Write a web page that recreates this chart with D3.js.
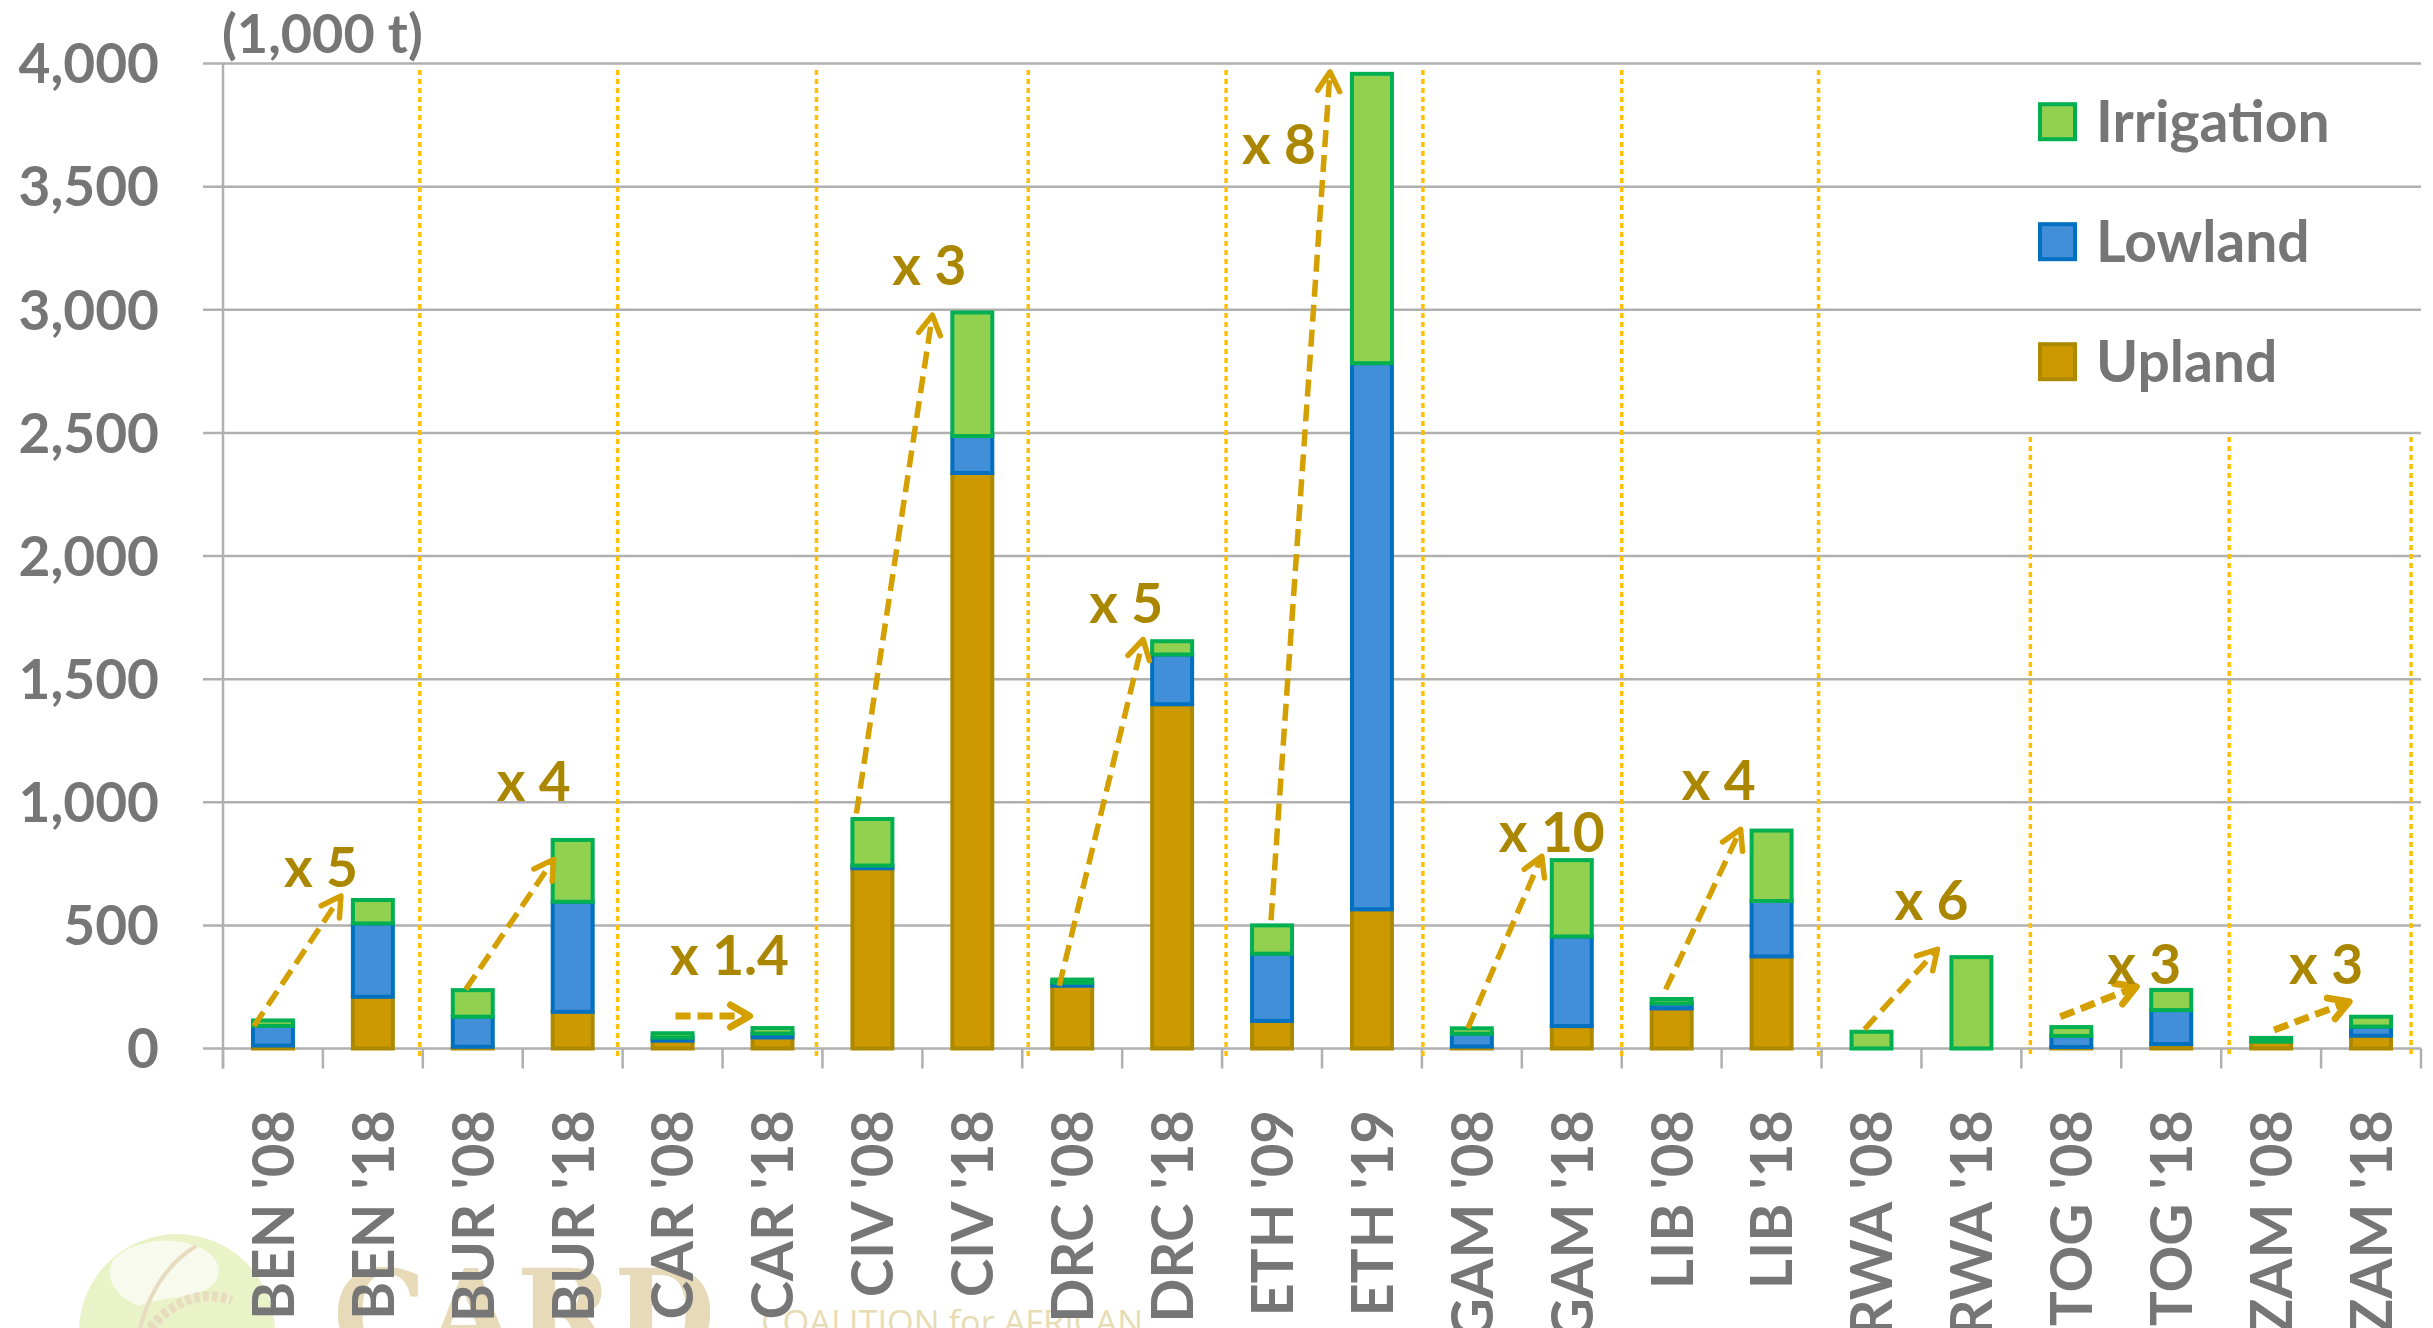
<!DOCTYPE html>
<html>
<head>
<meta charset="utf-8">
<script src="https://cdn.jsdelivr.net/npm/d3@7"></script>
<style>
  html, body { margin: 0; padding: 0; background: #ffffff; }
  svg { display: block; }
</style>
</head>
<body>
<svg id="chart" width="2433" height="1328"></svg>
<script>
// ---------------- DATA ----------------
const categories = ["BEN '08","BEN '18","BUR '08","BUR '18","CAR '08","CAR '18","CIV '08","CIV '18",
  "DRC '08","DRC '18","ETH '09","ETH '19","GAM '08","GAM '18","LIB '08","LIB '18",
  "RWA '08","RWA '18","TOG '08","TOG '18","ZAM '08","ZAM '18"];
const upland     = [12, 210, 7, 149, 32, 45, 732, 2337, 255, 1398, 112, 565, 8, 91, 163, 374, 0, 0, 6, 18, 28, 52];
const lowland    = [80, 298, 122, 447, 12, 16, 11, 150, 12, 202, 273, 2218, 52, 364, 20, 225, 0, 0, 45, 138, 0, 37];
const irrigation = [22, 95, 108, 251, 18, 22, 189, 502, 13, 54, 115, 1175, 22, 310, 18, 286, 68, 371, 36, 82, 15, 40];
const seriesNames = ["Upland", "Lowland", "Irrigation"];
const legendOrder = ["Irrigation", "Lowland", "Upland"];
const yTicks = [0, 500, 1000, 1500, 2000, 2500, 3000, 3500, 4000];
const yTitle = "(1,000 t)";
// group separators (category units) and whether they run full height
const separatorPos  = [1.97, 3.95, 5.94, 8.06, 10.04, 12.01, 14.0, 15.97, 18.09, 20.08, 21.9];
const separatorFull = [true, true, true, true, true, true, true, true, false, false, false];
// growth annotations: [category position, value]
const growthLabels = ["x 5","x 4","x 1.4","x 3","x 5","x 8","x 10","x 4","x 6","x 3","x 3"];
const arrowFrom = [[0.31,91],[2.43,240],[4.53,132],[6.34,955],[8.37,254],[10.49,521],[12.46,82],[14.44,240],[16.43,78],[18.39,129],[20.53,75]];
const arrowTo   = [[1.18,619],[3.31,768],[5.27,132],[7.10,2978],[9.21,1661],[11.08,3966],[13.2,781],[15.19,890],[17.16,403],[19.15,251],[21.28,190]];
const labelAt   = [[0.98,655],[3.11,1005],[5.07,300],[7.07,3100],[9.04,1728],[10.57,3590],[13.3,800],[14.97,1010],[17.1,520],[19.23,262],[21.05,262]];

// ---------------- STYLE ----------------
const fills   = {Upland: "#CC9A00", Lowland: "#428FD9", Irrigation: "#92D050"};
const strokes = {Upland: "#AD8900", Lowland: "#0070C0", Irrigation: "#00B050"};
const textGray = "#767676";
const gridGray = "#B0B0B0";
const arrowColor = "#D4A000";
const labelColor = "#AB8700";
const font = "Lato, 'Open Sans', sans-serif";

const svg = d3.select("#chart");
const plot = {left: 223, right: 2421, top: 63.5, bottom: 1048.5};

const x = d3.scaleBand().domain(categories).range([plot.left, plot.right])
  .paddingInner(0.6).paddingOuter(0.3);
const xLin = d3.scaleLinear().domain([0, categories.length]).range([plot.left, plot.right]);
const y = d3.scaleLinear().domain([0, 4000]).range([plot.bottom, plot.top]);

// ---------------- WATERMARK (logo, faint) ----------------
const wm = svg.append("g");
wm.append("circle").attr("cx", 177).attr("cy", 1332).attr("r", 98).attr("fill", "#EAF3C8");
wm.append("path").attr("d", "M112,1262 C130,1240 170,1236 196,1246 C214,1252 226,1268 214,1284 C196,1300 160,1296 140,1306 C120,1300 104,1282 112,1262 Z")
  .attr("fill", "#F7FAEC");
wm.append("path").attr("d", "M140,1328 C150,1290 170,1262 196,1246").attr("fill", "none").attr("stroke", "#E8DCC0").attr("stroke-width", 4);
wm.append("path").attr("d", "M150,1328 C175,1300 200,1290 232,1300").attr("fill", "none").attr("stroke", "#E8DCC0").attr("stroke-width", 10).attr("stroke-dasharray", "6,3");
wm.append("text").attr("x", 333).attr("y", 1358).attr("textLength", 382).attr("lengthAdjust", "spacingAndGlyphs")
  .attr("font-family", "'DejaVu Serif', serif").attr("font-weight", "bold").attr("font-size", 124)
  .attr("fill", "#E6DAB9").text("CARD");
wm.append("text").attr("x", 761).attr("y", 1334).attr("textLength", 382).attr("lengthAdjust", "spacingAndGlyphs")
  .attr("font-family", "'Open Sans', sans-serif").attr("font-size", 32)
  .attr("fill", "#E8DCB4").text("COALITION for AFRICAN");

// ---------------- GRID ----------------
const grid = svg.append("g");
grid.selectAll("line.h").data(yTicks).enter().append("line")
  .attr("x1", plot.left - 20).attr("x2", plot.right)
  .attr("y1", d => y(d)).attr("y2", d => y(d))
  .attr("stroke", gridGray).attr("stroke-width", 2.5);
grid.append("line").attr("x1", plot.left).attr("x2", plot.left)
  .attr("y1", y(4000)).attr("y2", plot.bottom + 20)
  .attr("stroke", gridGray).attr("stroke-width", 2.5);
grid.selectAll("line.t").data(d3.range(categories.length + 1)).enter().append("line")
  .attr("x1", d => xLin(d)).attr("x2", d => xLin(d))
  .attr("y1", plot.bottom).attr("y2", plot.bottom + 20)
  .attr("stroke", gridGray).attr("stroke-width", 2.5);

// y tick labels
svg.append("g").selectAll("text").data(yTicks).enter().append("text")
  .attr("x", 159).attr("y", d => y(d)).attr("dy", "0.36em")
  .attr("text-anchor", "end")
  .attr("font-family", font).attr("font-weight", "bold").attr("font-size", 55)
  .attr("fill", textGray)
  .text(d => d3.format(",")(d));

svg.append("text").attr("x", 222).attr("y", 53)
  .attr("font-family", font).attr("font-weight", "bold").attr("font-size", 54)
  .attr("fill", textGray).text(yTitle);

// group separators
svg.append("g").selectAll("line").data(separatorPos).enter().append("line")
  .attr("x1", d => xLin(d)).attr("x2", d => xLin(d))
  .attr("y1", (d, i) => separatorFull[i] ? 70 : y(2500) + 4)
  .attr("y2", plot.bottom + 9)
  .attr("stroke", "#FFC000").attr("stroke-width", 3.5).attr("stroke-dasharray", "5,4");

// ---------------- BARS ----------------
const table = categories.map((c, i) => ({cat: c, Upland: upland[i], Lowland: lowland[i], Irrigation: irrigation[i]}));
const stack = d3.stack().keys(seriesNames)(table);
const bars = svg.append("g");
stack.forEach(layer => {
  const key = layer.key;
  bars.selectAll(null).data(layer.filter(d => d[1] - d[0] > 0)).enter().append("rect")
    .attr("x", d => x(d.data.cat))
    .attr("width", x.bandwidth())
    .attr("y", d => y(d[1]))
    .attr("height", d => y(d[0]) - y(d[1]))
    .attr("fill", fills[key])
    .attr("stroke", strokes[key])
    .attr("stroke-width", 4);
});

// ---------------- ANNOTATIONS ----------------
const ann = svg.append("g");
growthLabels.forEach((lab, i) => {
  const x1 = xLin(arrowFrom[i][0]), y1 = y(arrowFrom[i][1]);
  const x2 = xLin(arrowTo[i][0]), y2 = y(arrowTo[i][1]);
  const short = Math.abs(y2 - y1) < 80;
  const sw = short ? 7 : 5.5;
  ann.append("line").attr("x1", x1).attr("y1", y1).attr("x2", x2).attr("y2", y2)
    .attr("stroke", arrowColor).attr("stroke-width", sw)
    .attr("stroke-dasharray", short ? "15,7" : "17,8");
  const ang = Math.atan2(y2 - y1, x2 - x1);
  const len = 22, spread = Math.PI / 6;
  const pts = [
    [x2 - len * Math.cos(ang - spread), y2 - len * Math.sin(ang - spread)],
    [x2, y2],
    [x2 - len * Math.cos(ang + spread), y2 - len * Math.sin(ang + spread)]
  ];
  ann.append("path").attr("d", d3.line()(pts))
    .attr("fill", "none").attr("stroke", arrowColor).attr("stroke-width", sw)
    .attr("stroke-linecap", "round").attr("stroke-linejoin", "round");
  ann.append("text").attr("x", xLin(labelAt[i][0])).attr("y", y(labelAt[i][1]))
    .attr("text-anchor", "middle")
    .attr("font-family", font).attr("font-weight", "bold").attr("font-size", 55)
    .attr("fill", labelColor).text(lab);
});

// ---------------- CATEGORY LABELS ----------------
svg.append("g").selectAll("text").data(categories).enter().append("text")
  .attr("transform", d => `translate(${x(d) + x.bandwidth() / 2},1110) rotate(-90)`)
  .attr("text-anchor", "end").attr("dy", "0.36em")
  .attr("font-family", font).attr("font-weight", "bold").attr("font-size", 58)
  .attr("fill", textGray)
  .text(d => d);

// ---------------- LEGEND ----------------
const legend = svg.append("g");
legendOrder.forEach((name, i) => {
  const cy = 121.7 + i * 120;
  legend.append("rect").attr("x", 2040).attr("y", cy - 17.5).attr("width", 35).attr("height", 35)
    .attr("fill", fills[name]).attr("stroke", strokes[name]).attr("stroke-width", 4);
  legend.append("text").attr("x", 2096).attr("y", cy).attr("dy", "0.36em")
    .attr("font-family", font).attr("font-weight", "bold").attr("font-size", 57)
    .attr("fill", textGray).text(name);
});
</script>
</body>
</html>
